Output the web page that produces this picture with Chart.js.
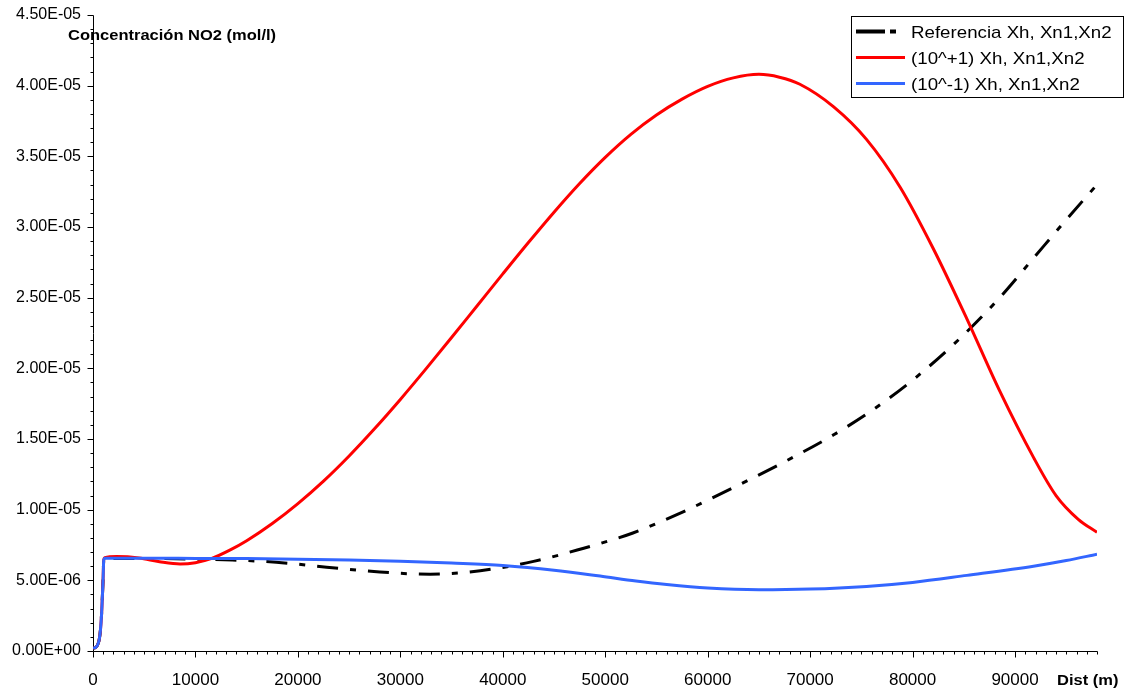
<!DOCTYPE html>
<html>
<head>
<meta charset="utf-8">
<script src="https://cdn.jsdelivr.net/npm/chart.js@4/dist/chart.umd.min.js"></script>
<style>
    html, body { margin: 0; padding: 0; background: #fff; }
    #wrap { width: 1127px; height: 693px; }
</style>
</head>
<body>
<div id="wrap"><canvas id="no2Chart" width="1127" height="693"></canvas></div>
<script>
// distances (m) and NO2 concentrations (mol/l)
const refDist = [0, 330, 650, 820, 980, 1050, 1150, 5000, 10000, 13600, 17900, 22800, 28000, 32900, 37800, 43000, 47900, 50100, 52700, 57600, 64100, 67400, 72300, 76200, 80400, 84600, 88500, 91800, 95100, 98000];
const refConc = [0.2e-6, 0.3e-6, 1.0e-6, 2.4e-6, 5.0e-6, 6.45e-6, 6.55e-6, 6.55e-6, 6.5e-6, 6.44e-6, 6.28e-6, 5.93e-6, 5.59e-6, 5.43e-6, 5.68e-6, 6.34e-6, 7.27e-6, 7.74e-6, 8.35e-6, 9.85e-6, 12.13e-6, 13.35e-6, 15.3e-6, 17.1e-6, 19.4e-6, 22.1e-6, 25.0e-6, 27.8e-6, 30.6e-6, 33.0e-6];

const upDist = [0, 330, 650, 820, 980, 1050, 1150, 2300, 4500, 6500, 8500, 10000, 11600, 13400, 15000, 17500, 20000, 22500, 25000, 27500, 30000, 32500, 35000, 37500, 40000, 42500, 45000, 47500, 50000, 52500, 55000, 57500, 60000, 62500, 65000, 67000, 69000, 72300, 75500, 78800, 82000, 85300, 88500, 91800, 94000, 96200, 98000];
const upConc = [0.2e-6, 0.3e-6, 1.0e-6, 2.4e-6, 5.0e-6, 6.45e-6, 6.6e-6, 6.68e-6, 6.58e-6, 6.32e-6, 6.16e-6, 6.25e-6, 6.55e-6, 7.15e-6, 7.8e-6, 9.02e-6, 10.43e-6, 12.02e-6, 13.8e-6, 15.74e-6, 17.8e-6, 19.96e-6, 22.18e-6, 24.43e-6, 26.68e-6, 28.9e-6, 31.05e-6, 33.08e-6, 34.93e-6, 36.56e-6, 37.93e-6, 39.05e-6, 39.95e-6, 40.55e-6, 40.8e-6, 40.6e-6, 40.1e-6, 38.5e-6, 36.2e-6, 32.8e-6, 28.5e-6, 23.5e-6, 18.4e-6, 13.7e-6, 11.0e-6, 9.3e-6, 8.4e-6];

const downDist = [0, 330, 650, 820, 980, 1050, 1150, 5000, 10000, 15000, 20000, 25000, 30000, 35000, 40000, 45000, 49500, 53000, 56000, 60000, 65000, 70000, 75500, 80000, 85300, 91800, 95000, 98000];
const downConc = [0.2e-6, 0.3e-6, 1.0e-6, 2.4e-6, 5.0e-6, 6.45e-6, 6.56e-6, 6.56e-6, 6.55e-6, 6.54e-6, 6.5e-6, 6.44e-6, 6.35e-6, 6.22e-6, 6.05e-6, 5.72e-6, 5.3e-6, 4.95e-6, 4.7e-6, 4.45e-6, 4.33e-6, 4.38e-6, 4.57e-6, 4.85e-6, 5.35e-6, 6.0e-6, 6.4e-6, 6.85e-6];

const seriesLabels = ['Referencia Xh, Xn1,Xn2', '(10^+1) Xh, Xn1,Xn2', '(10^-1) Xh, Xn1,Xn2'];
const xTickValues = [0, 10000, 20000, 30000, 40000, 50000, 60000, 70000, 80000, 90000];
const yTickValues = [0, 5e-6, 1e-5, 1.5e-5, 2e-5, 2.5e-5, 3e-5, 3.5e-5, 4e-5, 4.5e-5];
const xTitle = 'Dist (m)';
const yTitle = 'Concentración NO2 (mol/l)';

const X_MAX = 98000;
const Y_MAX = 4.5e-5;
const FONT = '"Liberation Sans", Arial, sans-serif';

function toPoints(xs, ys) {
    return xs.map((d, i) => ({ x: d, y: ys[i] }));
}

// 4.50E-05 style labels
function sci(v) {
    if (Math.abs(v) < 1e-12) return '0.00E+00';
    const parts = v.toExponential(2).split('e');
    const e = parseInt(parts[1], 10);
    const sign = e < 0 ? '-' : '+';
    const n = Math.abs(e);
    return parts[0] + 'E' + sign + (n < 10 ? '0' : '') + n;
}

function noPadding(s) {
    s.paddingTop = 0;
    s.paddingBottom = 0;
    s.paddingLeft = 0;
    s.paddingRight = 0;
}

// axis lines, minor/major tick marks, axis titles
const axisDecor = {
    id: 'axisDecor',
    beforeDatasetsDraw(chart) {
        const ctx = chart.ctx;
        const xs = chart.scales.x, ys = chart.scales.y;
        const left = Math.round(xs.left) + 0.5;
        const bottom = Math.round(ys.bottom) + 0.5;

        ctx.save();
        ctx.fillStyle = '#000';
        ctx.font = 'bold 15px ' + FONT;
        ctx.textBaseline = 'alphabetic';
        ctx.translate(68, 40);
        ctx.scale(1.1, 1);
        ctx.fillText(yTitle, 0, 0);
        ctx.restore();

        ctx.save();
        ctx.fillStyle = '#000';
        ctx.font = 'bold 15px ' + FONT;
        ctx.textBaseline = 'alphabetic';
        ctx.translate(1057, 685);
        ctx.scale(1.1, 1);
        ctx.fillText(xTitle, 0, 0);
        ctx.restore();

        ctx.save();
        ctx.strokeStyle = '#000';
        ctx.lineWidth = 1;
        ctx.beginPath();
        ctx.moveTo(left, Math.round(ys.top) + 0.5);
        ctx.lineTo(left, bottom);
        ctx.lineTo(Math.round(xs.right) + 0.5, bottom);
        for (let d = 0; d <= X_MAX; d += 1000) {
            const px = Math.round(xs.getPixelForValue(d)) + 0.5;
            const len = d % 10000 === 0 ? 6 : 3;
            ctx.moveTo(px, bottom);
            ctx.lineTo(px, bottom + len);
        }
        for (let i = 0; i <= 45; i++) {
            const py = Math.round(ys.getPixelForValue(i * 1e-6)) + 0.5;
            const len = i % 5 === 0 ? 6 : 3;
            ctx.moveTo(left - len, py);
            ctx.lineTo(left, py);
        }
        ctx.stroke();
        ctx.restore();
    }
};

// boxed legend in the top right corner
const boxLegend = {
    id: 'boxLegend',
    afterDraw(chart) {
        const ctx = chart.ctx;
        ctx.save();
        ctx.fillStyle = '#fff';
        ctx.fillRect(851, 16, 272, 81);
        ctx.strokeStyle = '#000';
        ctx.lineWidth = 1;
        ctx.strokeRect(851.5, 16.5, 272, 81);
        chart.data.datasets.forEach((ds, i) => {
            const base = 37.5 + i * 26;
            const ly = base - 6;
            ctx.beginPath();
            ctx.strokeStyle = ds.borderColor;
            ctx.lineWidth = i === 0 ? 4 : 3;
            ctx.setLineDash(i === 0 ? [29, 5, 6, 40] : []);
            ctx.moveTo(856, ly);
            ctx.lineTo(905, ly);
            ctx.stroke();
            ctx.setLineDash([]);
            ctx.save();
            ctx.fillStyle = '#000';
            ctx.font = '17px ' + FONT;
            ctx.textBaseline = 'alphabetic';
            ctx.translate(911, base);
            ctx.scale(1.1, 1);
            ctx.fillText(ds.label, 0, 0);
            ctx.restore();
        });
        ctx.restore();
    }
};

const ctx = document.getElementById('no2Chart').getContext('2d');
const chart = new Chart(ctx, {
    type: 'line',
    data: {
        datasets: [
            {
                label: seriesLabels[0],
                data: toPoints(refDist, refConc),
                borderColor: '#000000',
                borderWidth: 3,
                borderDash: [21, 12, 6, 12],
                borderCapStyle: 'butt',
                pointRadius: 0,
                fill: false,
                cubicInterpolationMode: 'monotone',
                order: 2
            },
            {
                label: seriesLabels[1],
                data: toPoints(upDist, upConc),
                borderColor: '#ff0000',
                borderWidth: 3,
                pointRadius: 0,
                fill: false,
                cubicInterpolationMode: 'monotone',
                order: 1
            },
            {
                label: seriesLabels[2],
                data: toPoints(downDist, downConc),
                borderColor: '#3366ff',
                borderWidth: 3,
                pointRadius: 0,
                fill: false,
                cubicInterpolationMode: 'monotone',
                order: 0
            }
        ]
    },
    options: {
        responsive: false,
        animation: false,
        devicePixelRatio: 1,
        layout: { padding: { left: 0, right: 30, top: 15, bottom: 0 } },
        plugins: {
            legend: { display: false },
            tooltip: { enabled: false }
        },
        scales: {
            x: {
                type: 'linear',
                min: 0,
                max: X_MAX,
                grid: { display: false, drawTicks: false },
                border: { display: false },
                afterBuildTicks: s => { s.ticks = xTickValues.map(v => ({ value: v })); },
                ticks: {
                    autoSkip: false,
                    maxRotation: 0,
                    padding: 19,
                    color: '#000',
                    font: { family: FONT, size: 17 },
                    callback: v => String(v)
                },
                afterFit: s => { s.height = 42; noPadding(s); }
            },
            y: {
                type: 'linear',
                min: 0,
                max: Y_MAX,
                grid: { display: false, drawTicks: false },
                border: { display: false },
                afterBuildTicks: s => { s.ticks = yTickValues.map(v => ({ value: v })); },
                ticks: {
                    autoSkip: false,
                    padding: 12,
                    color: '#000',
                    font: { family: FONT, size: 16 },
                    callback: v => sci(v)
                },
                afterFit: s => { s.width = 93; noPadding(s); }
            }
        }
    },
    plugins: [axisDecor, boxLegend]
});
</script>
</body>
</html>
